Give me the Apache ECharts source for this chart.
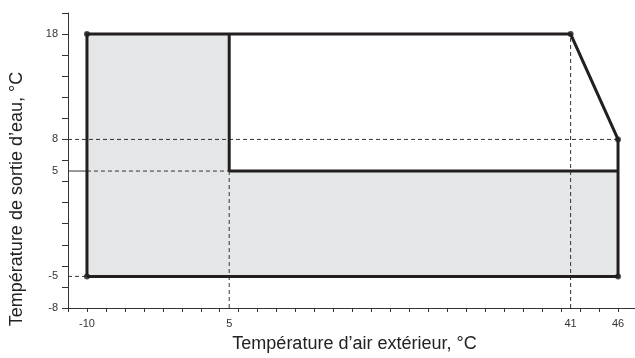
<!DOCTYPE html>
<html>
<head>
<meta charset="utf-8">
<script src="https://cdn.jsdelivr.net/npm/echarts@6/dist/echarts.min.js"></script>
<style>html,body{margin:0;padding:0;background:#fff}#c{width:635px;height:358px}</style>
</head>
<body>
<div id="c"></div>
<script>
// Data
var xLabels = [-10, 5, 41, 46];
var yLabels = [-8, -5, 5, 8, 18];
var xTicks = [-12,-10,-8,-6,-4,-2,0,2,4,6,8,10,12,14,16,18,20,22,24,26,28,30,32,34,36,38,40,42,44,46,48];
var yTicks = [-8,-6,-4,-2,0,2,4,6,8,10,12,14,16,18,20];
var outline = [[-10,-5],[-10,18],[41,18],[46,8],[46,-5],[-10,-5]];
var innerLine = [[5,18],[5,5],[46,5]];
var vertices = [[-10,18],[-10,-5],[41,18],[46,8],[46,-5]];
var fillRects = [[[-10,-5],[5,18]], [[5,-5],[46,5]]];
var dashedLines = [
  [[5,-8],[5,5]],
  [[41,-8],[41,18]],
  [[-12,8],[46,8]],
  [[-12,-5],[-10,-5]],
  [[-10,5],[5,5]]
];
var solidThin = [[[-12,5],[-10,5]]];

var series = [];
series.push({
  type: 'line', data: [], silent: true,
  markArea: {
    silent: true,
    itemStyle: {color: '#e5e6e7'},
    data: fillRects.map(function(r){ return [{coord: r[0]}, {coord: r[1]}]; })
  }
});
dashedLines.forEach(function(l){
  series.push({type:'line', data:l, symbol:'none', silent:true, z:3,
    lineStyle:{color:'#333', width:1, type:[4,3]}});
});
solidThin.forEach(function(l){
  series.push({type:'line', data:l, symbol:'none', silent:true, z:3,
    lineStyle:{color:'#333', width:1}});
});
series.push({type:'line', data:outline, symbol:'none', silent:true, z:4,
  lineStyle:{color:'#231f20', width:3, join:'miter'}});
series.push({type:'line', data:innerLine, symbol:'none', silent:true, z:4,
  lineStyle:{color:'#231f20', width:3}});
series.push({type:'scatter', data:vertices, symbol:'circle', symbolSize:6, silent:true, z:5,
  itemStyle:{color:'#231f20'}});

var chart = echarts.init(document.getElementById('c'), null, {renderer:'canvas'});
chart.setOption({
  animation: false,
  grid: {left: 68, top: 13, width: 569, height: 295, containLabel: false, outerBoundsMode: 'none'},
  xAxis: {
    type: 'value', min: -12, max: 48,
    axisLine: {onZero: false, lineStyle: {color: '#333', width: 1}},
    axisTick: {show: true, length: 4, customValues: xTicks, lineStyle: {color: '#333'}},
    axisLabel: {customValues: xLabels, color: '#333', fontSize: 11, margin: 10, fontFamily: 'Liberation Sans'},
    splitLine: {show: false},
    name: 'Température d\u2019air extérieur, °C',
    nameLocation: 'middle', nameGap: 27,
    nameTextStyle: {fontSize: 18, color: '#222', fontFamily: 'Liberation Sans', padding:[0,0,0,4]}
  },
  yAxis: {
    type: 'value', min: -8, max: 20,
    axisLine: {show: true, onZero: false, lineStyle: {color: '#333', width: 1}},
    axisTick: {show: true, length: 6, customValues: yTicks, lineStyle: {color: '#333'}},
    axisLabel: {customValues: yLabels, color: '#333', fontSize: 11, margin: 10, fontFamily: 'Liberation Sans'},
    splitLine: {show: false}
  },
  graphic: [{
    type: 'text', x: 17, y: 199, rotation: Math.PI/2,
    style: {text: 'Température de sortie d\u2019eau, °C', fontSize: 18, fill: '#222',
      fontFamily: 'Liberation Sans', align: 'center', verticalAlign: 'middle'}
  }],
  series: series
});
</script>
</body>
</html>
